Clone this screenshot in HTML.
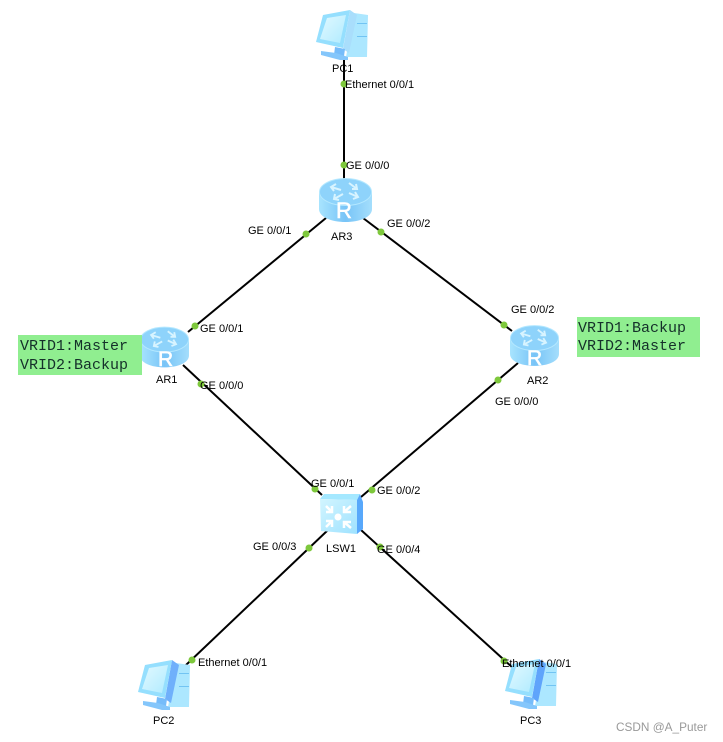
<!DOCTYPE html>
<html><head><meta charset="utf-8"><style>
html,body{margin:0;padding:0;background:#fff}
svg{display:block}
.l{font:11px "Liberation Sans",sans-serif;fill:#000}
.m{font:15px "Liberation Mono",monospace;fill:#15302a}
.r{font:22px "Liberation Sans",sans-serif;fill:#fff;stroke:#fff;stroke-width:.6}
</style></head><body>
<svg width="723" height="742" viewBox="0 0 723 742" xmlns="http://www.w3.org/2000/svg">
<defs>
<linearGradient id="rb" x1="0" x2="1" y1="0" y2="0">
<stop offset="0" stop-color="#a8e4fe"/><stop offset=".5" stop-color="#78c4f7"/><stop offset="1" stop-color="#a4defc"/>
</linearGradient>
<linearGradient id="sf" x1="0" x2="1" y1="0" y2="1">
<stop offset="0" stop-color="#d2f5ff"/><stop offset="1" stop-color="#9fe2ff"/>
</linearGradient>
<linearGradient id="ms" x1="0" x2="1" y1="0" y2="1">
<stop offset="0" stop-color="#e2f9ff"/><stop offset="1" stop-color="#b0ebff"/>
</linearGradient>
<symbol id="router" viewBox="0 0 53 44" width="53" height="44" overflow="visible">
<path d="M0 14V31C0 39 12 44 26.500 44S53 39 53 31V14Z" fill="url(#rb)"/>
<ellipse cx="26.500" cy="14" rx="26" ry="13.500" fill="#8ed3fb" stroke="#b4e8ff" stroke-width="1"/>
<g fill="none" stroke="#d8f4ff" stroke-width="2">
<path d="M12 9 22 12M17 6 12 9 15 13"/>
<path d="M30 5 38 11M33 11 38 11 37 6"/>
<path d="M24 16 15 21M16 16 15 21 20 22"/>
<path d="M30 15 39 19M34 21 39 19 36 14"/>
</g>
</symbol>
<symbol id="pc" viewBox="0 0 53 50" width="53" height="50" overflow="visible">
<path d="M38 3 52 5 51 47 30 47Z" fill="#ace7ff"/>
<path d="M41 13h10v1H41ZM41 26h10v1H41Z" fill="#72c4f3"/>
<path d="M34 0 41 5 33 43 27 39Z" fill="currentColor"/>
<path d="M19 37 29 39 28 46 18 45Z" fill="#76bcfa"/>
<path d="M5 41 20 43 32 47 32 50 24 50 5 45Z" fill="#84c6fb"/>
<path d="M7 5 34 0 27 38 0 32Z" fill="#95dffe"/>
<path d="M11 8 30 5 24 33 4 29Z" fill="url(#ms)"/>
</symbol>
<symbol id="sw" viewBox="0 0 43 41" width="43" height="41" overflow="visible">
<path d="M4 1 40 1 37 7 0 6Z" fill="#a4e8ff"/>
<path d="M40 1 43 9 43 36 37 41 37 7Z" fill="#58a8fb"/>
<path d="M0 6 37 7 37 41 1 38Z" fill="url(#sf)"/>
<circle cx="18" cy="24" r="3.500" fill="#fff"/>
<g fill="none" stroke="#fff" stroke-width="2.500">
<path d="M6 13 12 19M12 13V19H6"/>
<path d="M31 13 24 19M24 13V19H31"/>
<path d="M6 34 12 28M6 28H12V34"/>
<path d="M31 35 24 29M24 35V29H31"/>
</g>
</symbol>
</defs>

<g stroke="#000" stroke-width="2" fill="none">
<path d="M344 56V180"/>
<path d="M326 218 188 332"/>
<path d="M363 218 512 331"/>
<path d="M183 365 322 495"/>
<path d="M518 363 361 497"/>
<path d="M328 530 186 665"/>
<path d="M361 530 513 668"/>
</g>

<use href="#pc" x="316" y="10" color="#a9defc"/>
<use href="#router" x="319" y="178"/>
<text class="r" x="336" y="218">R</text>
<use href="#router" x="140" y="326" width="49" height="42"/>
<text class="r" x="158" y="366" style="font-size:21px">R</text>
<use href="#router" x="510" y="324" width="49" height="43"/>
<text class="r" x="527" y="365" style="font-size:21px">R</text>
<use href="#sw" x="320" y="493"/>
<use href="#pc" x="138" y="660" color="#6fb0fb"/>
<use href="#pc" x="505" y="659" color="#5fa4fb"/>

<g fill="#7ec83c">
<circle cx="344" cy="84" r="3.500"/>
<circle cx="344" cy="165" r="3.500"/>
<circle cx="306" cy="234" r="3.500"/>
<circle cx="381" cy="232" r="3.500"/>
<circle cx="195" cy="326" r="3.500"/>
<circle cx="504" cy="325" r="3.500"/>
<circle cx="201" cy="384" r="3.500"/>
<circle cx="498" cy="380" r="3.500"/>
<circle cx="315" cy="489" r="3.500"/>
<circle cx="372" cy="490" r="3.500"/>
<circle cx="309" cy="548" r="3.500"/>
<circle cx="380" cy="547" r="3.500"/>
<circle cx="192" cy="660" r="3.500"/>
<circle cx="504" cy="661" r="3.500"/>
</g>

<g class="lbls">
<text class="l" x="332" y="72">PC1</text>
<text class="l" x="345" y="88">Ethernet 0/0/1</text>
<text class="l" x="346" y="169">GE 0/0/0</text>
<text class="l" x="331" y="240">AR3</text>
<text class="l" x="248" y="234">GE 0/0/1</text>
<text class="l" x="387" y="227">GE 0/0/2</text>
<text class="l" x="200" y="332">GE 0/0/1</text>
<text class="l" x="156" y="383">AR1</text>
<text class="l" x="200" y="389">GE 0/0/0</text>
<text class="l" x="511" y="313">GE 0/0/2</text>
<text class="l" x="527" y="384">AR2</text>
<text class="l" x="495" y="405">GE 0/0/0</text>
<text class="l" x="311" y="487">GE 0/0/1</text>
<text class="l" x="377" y="494">GE 0/0/2</text>
<text class="l" x="253" y="550">GE 0/0/3</text>
<text class="l" x="326" y="552">LSW1</text>
<text class="l" x="377" y="553">GE 0/0/4</text>
<text class="l" x="198" y="666">Ethernet 0/0/1</text>
<text class="l" x="153" y="724">PC2</text>
<text class="l" x="502" y="667">Ethernet 0/0/1</text>
<text class="l" x="520" y="724">PC3</text>
</g>

<rect x="18" y="335" width="124" height="40" fill="#90ee90"/>
<text class="m" x="20" y="350">VRID1:Master</text>
<text class="m" x="20" y="369">VRID2:Backup</text>
<rect x="577" y="317" width="123" height="40" fill="#90ee90"/>
<text class="m" x="578" y="332">VRID1:Backup</text>
<text class="m" x="578" y="350">VRID2:Master</text>

<text x="616" y="731" style="font:11.800px 'Liberation Sans',sans-serif;fill:#999">CSDN @A_Puter</text>
</svg>
</body></html>
